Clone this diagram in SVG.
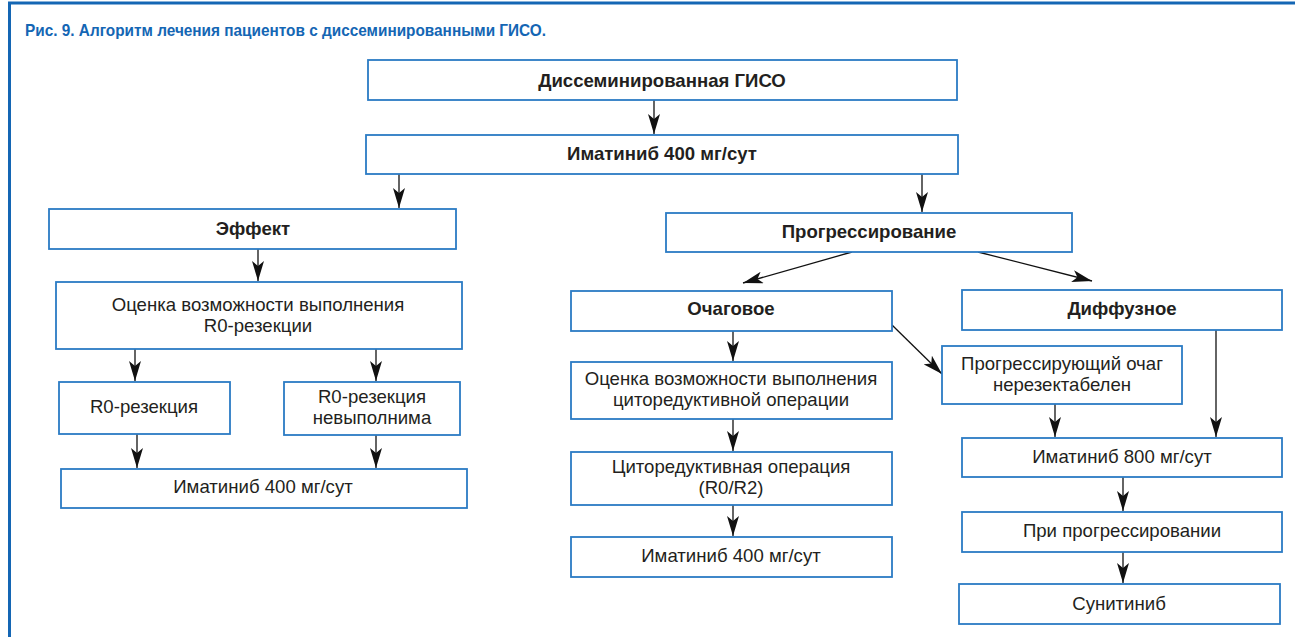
<svg xmlns="http://www.w3.org/2000/svg" width="1295" height="637" viewBox="0 0 1295 637">
<style>
.box{fill:#fff;stroke:#2b7bc4;stroke-width:1.8}
.t{font-family:"Liberation Sans",Arial,sans-serif;font-size:18.6px;fill:#231f20;text-anchor:middle}
.b{font-weight:bold}
.c{fill:none;stroke:#111;stroke-width:1.3}
</style>
<defs>
<marker id="ah" markerUnits="userSpaceOnUse" viewBox="0 0 20 12" refX="20" refY="6" markerWidth="20" markerHeight="12" orient="auto">
<path d="M0,0 L20,6 L0,12 L5,6 Z" fill="#111"/>
</marker>
</defs>
<rect x="0" y="0" width="1295" height="637" fill="#fff"/>
<g id="frame">
<line x1="8" y1="3" x2="1295" y2="3" stroke="#1466b4" stroke-width="3"/>
<line x1="9.5" y1="2" x2="9.5" y2="637" stroke="#1466b4" stroke-width="3"/>
<text x="25" y="36" font-family="'Liberation Sans',Arial,sans-serif" font-weight="bold" font-size="17" fill="#1466b4" textLength="521" lengthAdjust="spacingAndGlyphs">Рис. 9. Алгоритм лечения пациентов с диссеминированными ГИСО.</text>
</g>
<g id="connectors">
<line class="c" x1="654" y1="100" x2="654" y2="134" marker-end="url(#ah)"/>
<line class="c" x1="399" y1="174" x2="399" y2="208" marker-end="url(#ah)"/>
<line class="c" x1="922" y1="174" x2="922" y2="212" marker-end="url(#ah)"/>
<line class="c" x1="258" y1="249" x2="258" y2="281" marker-end="url(#ah)"/>
<line class="c" x1="135" y1="349" x2="135" y2="381" marker-end="url(#ah)"/>
<line class="c" x1="376" y1="349" x2="376" y2="381" marker-end="url(#ah)"/>
<line class="c" x1="137" y1="434" x2="137" y2="468" marker-end="url(#ah)"/>
<line class="c" x1="376" y1="435" x2="376" y2="468" marker-end="url(#ah)"/>
<line class="c" x1="852" y1="252" x2="743" y2="283" marker-end="url(#ah)"/>
<line class="c" x1="978" y1="252" x2="1092" y2="281" marker-end="url(#ah)"/>
<line class="c" x1="733" y1="331" x2="733" y2="361" marker-end="url(#ah)"/>
<line class="c" x1="733" y1="419" x2="733" y2="451" marker-end="url(#ah)"/>
<line class="c" x1="733" y1="505" x2="733" y2="536" marker-end="url(#ah)"/>
<line class="c" x1="892" y1="325" x2="942" y2="374" marker-end="url(#ah)"/>
<line class="c" x1="1055" y1="404" x2="1055" y2="437" marker-end="url(#ah)"/>
<line class="c" x1="1216" y1="330" x2="1216" y2="437" marker-end="url(#ah)"/>
<line class="c" x1="1123" y1="477" x2="1123" y2="511" marker-end="url(#ah)"/>
<line class="c" x1="1123" y1="552" x2="1123" y2="583" marker-end="url(#ah)"/>
</g>
<g id="n1"><rect class="box" x="368" y="60" width="589" height="40"/><text class="t b" x="662" y="87">Диссеминированная ГИСО</text></g>
<g id="n2"><rect class="box" x="366" y="135" width="592" height="39"/><text class="t b" x="662" y="160">Иматиниб 400 мг/сут</text></g>
<g id="n3"><rect class="box" x="49" y="209" width="407" height="40"/><text class="t b" x="253" y="235">Эффект</text></g>
<g id="n4"><rect class="box" x="56" y="282" width="406" height="67"/><text class="t" x="258" y="311">Оценка возможности выполнения</text><text class="t" x="258" y="332">R0-резекции</text></g>
<g id="n5"><rect class="box" x="59" y="382" width="171" height="52"/><text class="t" x="144" y="413">R0-резекция</text></g>
<g id="n6"><rect class="box" x="284" y="382" width="176" height="53"/><text class="t" x="372" y="403">R0-резекция</text><text class="t" x="372" y="424">невыполнима</text></g>
<g id="n7"><rect class="box" x="61" y="469" width="406" height="39"/><text class="t" x="263" y="493">Иматиниб 400 мг/сут</text></g>
<g id="n8"><rect class="box" x="666" y="213" width="406" height="39"/><text class="t b" x="869" y="238">Прогрессирование</text></g>
<g id="n9"><rect class="box" x="571" y="291" width="321" height="40"/><text class="t b" x="731" y="315">Очаговое</text></g>
<g id="n10"><rect class="box" x="571" y="362" width="321" height="57"/><text class="t" x="731" y="385">Оценка возможности выполнения</text><text class="t" x="731" y="406">циторедуктивной операции</text></g>
<g id="n11"><rect class="box" x="571" y="452" width="321" height="53"/><text class="t" x="731" y="473">Циторедуктивная операция</text><text class="t" x="731" y="494">(R0/R2)</text></g>
<g id="n12"><rect class="box" x="571" y="537" width="321" height="40"/><text class="t" x="731" y="562">Иматиниб 400 мг/сут</text></g>
<g id="n13"><rect class="box" x="962" y="290" width="320" height="40"/><text class="t b" x="1122" y="315">Диффузное</text></g>
<g id="n14"><rect class="box" x="942" y="346" width="240" height="58"/><text class="t" x="1062" y="370">Прогрессирующий очаг</text><text class="t" x="1062" y="391">нерезектабелен</text></g>
<g id="n15"><rect class="box" x="962" y="438" width="320" height="39"/><text class="t" x="1122" y="463">Иматиниб 800 мг/сут</text></g>
<g id="n16"><rect class="box" x="962" y="512" width="320" height="40"/><text class="t" x="1122" y="537">При прогрессировании</text></g>
<g id="n17"><rect class="box" x="959" y="584" width="321" height="40"/><text class="t" x="1119" y="610">Сунитиниб</text></g>
</svg>
